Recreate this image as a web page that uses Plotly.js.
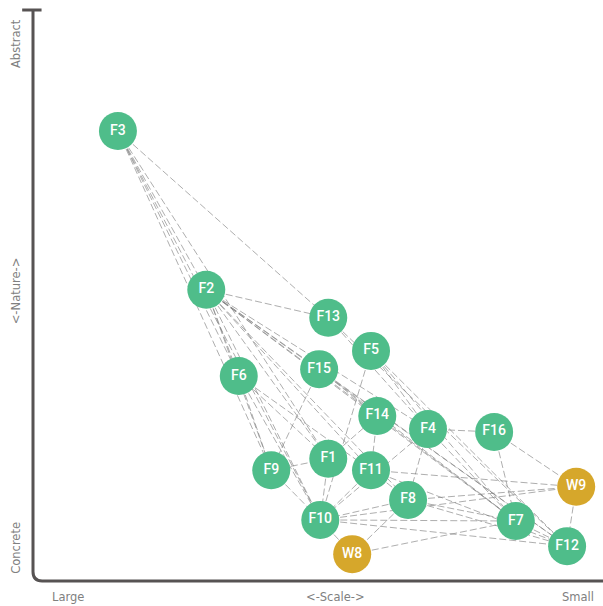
<!DOCTYPE html>
<html>
<head>
<meta charset="utf-8">
<script src="https://cdn.plot.ly/plotly-3.0.1.min.js"></script>
<style>html,body{margin:0;padding:0;background:#fff;}#chart{width:603px;height:606px;}</style>
</head>
<body>
<div id="chart"></div>
<script>
// Node names, scale position (x: large -> small) and nature position (y: concrete -> abstract)
const nodeNames = ["F3","F2","F13","F5","F6","F15","F14","F4","F16","F9","F1","F11","F8","W9","F10","F7","F12","W8"];
const nodeScale = [14.9,30.4,51.8,59.3,36.1,50.2,60.4,69.3,80.9,41.8,51.8,59.3,65.8,95.3,50.4,84.7,93.7,56.0];
const nodeNature = [78.8,51.0,46.1,40.3,35.9,37.1,28.9,26.6,26.1,19.4,21.4,19.4,14.2,16.5,10.7,10.5,6.1,4.7];
const nodeGroup = ["F","F","F","F","F","F","F","F","F","F","F","F","F","W","F","F","F","W"];

// Connections (from, to)
const edgeFrom = ["F3","F3","F3","F3","F3","F3",
  "F2","F2","F2","F2","F2","F2","F2","F2","F2","F2","F2","F2",
  "F13","F13","F5","F5","F5","F5","F15","F15","F15","F15","F14","F14",
  "F4","F4","F4","F4","F16","F16","F6","F6","F6","F6","F9","F9","F1","F1",
  "F11","F11","F11","F11","F8","F8","F8","F8","F8","F10","F10","F10","F10","W8","F7","W9"];
const edgeTo = ["F2","F13","F6","F9","F10","F1",
  "F13","F15","F6","F9","F10","F1","F11","F14","F4","F7","F12","F8",
  "F4","F12","F4","F7","F12","F10","F9","F14","F7","F12","F7","F11",
  "F8","F10","F7","F16","F7","W9","F9","F10","F1","F11","F1","F10","F10","F14",
  "F10","F8","W9","F12","F10","F7","W8","W9","F12","F7","F12","W8","W9","F7","F12","F12"];

const groupColor = {F:"#4fbd8a", W:"#d6a72b"};

const idx = {};
nodeNames.forEach((n,i)=>idx[n]=i);

const traces = [];
edgeFrom.forEach((a,k)=>{
  const b = edgeTo[k];
  traces.push({
    type:"scatter", mode:"lines", hoverinfo:"skip", showlegend:false,
    x:[nodeScale[idx[a]], nodeScale[idx[b]]],
    y:[nodeNature[idx[a]], nodeNature[idx[b]]],
    line:{color:"rgba(120,120,120,0.6)", width:1, dash:"7px,3px"}
  });
});

traces.push({
  type:"scatter", mode:"markers+text", hoverinfo:"skip", showlegend:false,
  x:nodeScale, y:nodeNature, text:nodeNames,
  textposition:"middle center",
  textfont:{family:"Roboto, 'Open Sans', sans-serif", size:14, color:"#ffffff", weight:500},
  marker:{size:38, color:nodeGroup.map(g=>groupColor[g]), line:{width:0}},
  cliponaxis:false
});

const axisColor = "#575353";
const labelFont = {family:"'DejaVu Sans', sans-serif", size:11.5, color:"#808080"};

const layout = {
  width:603, height:606,
  margin:{l:33, r:0, t:10, b:25},
  paper_bgcolor:"#ffffff", plot_bgcolor:"#ffffff",
  xaxis:{range:[0,100], visible:false, fixedrange:true},
  yaxis:{range:[0,100], visible:false, fixedrange:true},
  shapes:[
    {type:"path", xref:"paper", yref:"paper",
     path:"M 0,1 L 0,0.016 Q 0,0 0.016,0 L 1,0",
     line:{color:axisColor, width:3}},
    {type:"line", xref:"paper", yref:"paper", x0:-0.019, x1:0.015, y0:1, y1:1,
     line:{color:axisColor, width:3}}
  ],
  annotations:[
    {text:"Abstract", xref:"paper", yref:"paper", x:-0.030, y:0.942, xanchor:"center", yanchor:"middle", textangle:-90, showarrow:false, font:labelFont},
    {text:"&lt;-Nature-&gt;", xref:"paper", yref:"paper", x:-0.030, y:0.509, xanchor:"center", yanchor:"middle", textangle:-90, showarrow:false, font:labelFont},
    {text:"Concrete", xref:"paper", yref:"paper", x:-0.030, y:0.058, xanchor:"center", yanchor:"middle", textangle:-90, showarrow:false, font:labelFont},
    {text:"Large", xref:"paper", yref:"paper", x:0.061, y:-0.028, xanchor:"center", yanchor:"middle", showarrow:false, font:labelFont},
    {text:"&lt;-Scale-&gt;", xref:"paper", yref:"paper", x:0.530, y:-0.028, xanchor:"center", yanchor:"middle", showarrow:false, font:labelFont},
    {text:"Small", xref:"paper", yref:"paper", x:0.956, y:-0.028, xanchor:"center", yanchor:"middle", showarrow:false, font:labelFont}
  ]
};

Plotly.newPlot("chart", traces, layout, {displayModeBar:false, staticPlot:true});
</script>
</body>
</html>
